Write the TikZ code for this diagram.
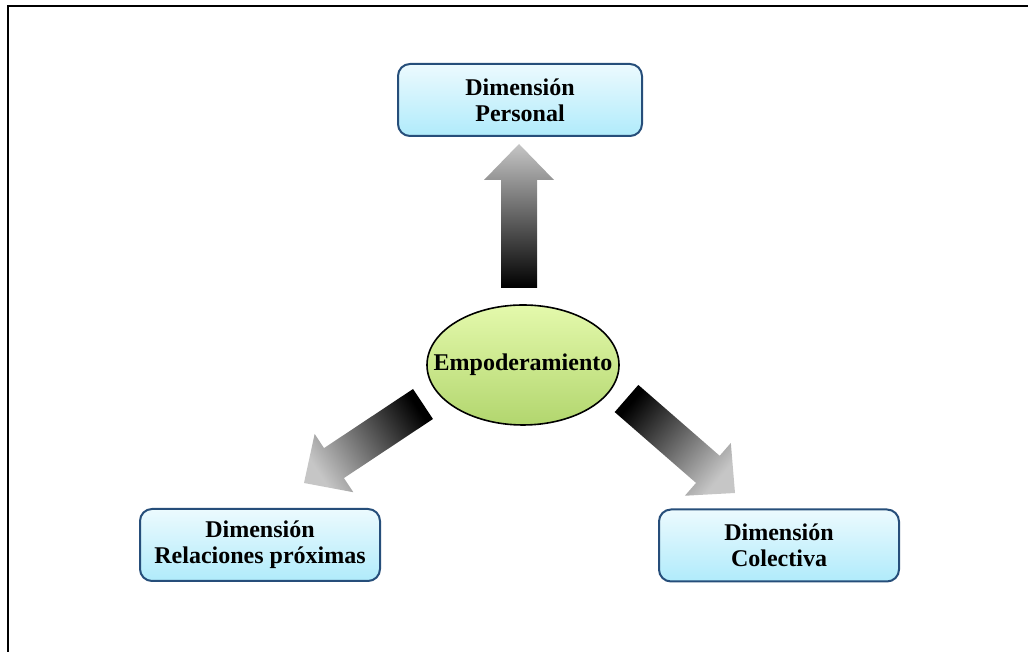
\documentclass[tikz,border=0pt]{standalone}
\usepackage{fontspec}
\setmainfont{Liberation Serif}
\usetikzlibrary{shapes.geometric, calc}

\definecolor{boxtop}{RGB}{236,250,254}
\definecolor{boxbot}{RGB}{176,235,251}
\definecolor{boxline}{RGB}{38,78,122}
\definecolor{elltop}{RGB}{228,249,172}
\definecolor{ellbot}{RGB}{178,214,110}

% block arrow from #1 (tail) to #2 (tip), #3 = shading angle
\newcommand{\blockarrow}[3]{%
  \shade[top color=gray!45, bottom color=black, shading angle=#3]
    ($(#1)!9pt!90:(#2)$) -- ($(#2)!18pt!(#1)!9pt!-90:(#1)$)
    -- ($(#2)!18pt!(#1)!17.5pt!-90:(#1)$) -- (#2)
    -- ($(#2)!18pt!(#1)!17.5pt!90:(#1)$) -- ($(#2)!18pt!(#1)!9pt!90:(#1)$)
    -- ($(#1)!9pt!-90:(#2)$) -- cycle;}

\begin{document}
\begin{tikzpicture}[x=0.5pt, y=0.5pt,
  font=\fontsize{12}{13.2}\selectfont\bfseries,
  dimbox/.style={draw=boxline, line width=1pt, rounded corners=6pt,
    top color=boxtop, bottom color=boxbot, align=center,
    minimum width=120pt, minimum height=36pt, inner sep=0pt},
  core/.style={ellipse, draw, line width=0.8pt, top color=elltop,
    bottom color=ellbot, minimum width=96pt, minimum height=60pt, inner sep=0pt}]
  \useasboundingbox (0,0) rectangle (1028,652);
  \draw[line width=1pt] (8,0) -- (8,646) -- (1028,646);

  \node[core] (emp) at (523,287) {\makebox[0pt]{Empoderamiento}};
  \node[dimbox, minimum width=122pt] (pers) at (520,552) {Dimensión\\Personal};
  \node[dimbox] (rel) at (260,107) {Dimensión\\Relaciones próximas};
  \node[dimbox] (col) at (779,106.5) {Dimensión\\Colectiva};

  \coordinate (upTail) at (519,364);
  \coordinate (upTip) at (519,508);
  \coordinate (relTail) at (423,248);
  \coordinate (relTip) at (304,169);
  \coordinate (colTail) at (626.5,253.5);
  \coordinate (colTip) at (735,159);

  \blockarrow{upTail}{upTip}{0}
  \blockarrow{relTail}{relTip}{123.6}
  \blockarrow{colTail}{colTip}{-131.05}
\end{tikzpicture}
\end{document}
